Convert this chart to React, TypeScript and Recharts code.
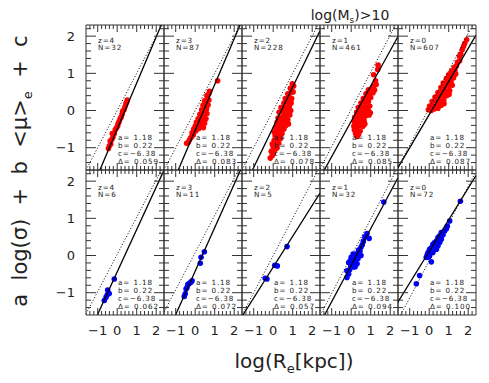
import React from 'react';
import { ScatterChart, Scatter, XAxis, YAxis } from 'recharts';

type Pt = [number, number];

// ---------- axes ----------
const X_DOMAIN: [number, number] = [-1.6, 2.4];
const Y_DOMAIN: [number, number] = [-1.6, 2.3];
const X_TICKS = [-1.4, -1.2, -1, -0.8, -0.6, -0.4, -0.2, 0, 0.2, 0.4, 0.6, 0.8, 1, 1.2, 1.4, 1.6, 1.8, 2, 2.2];
const Y_TICKS = [-1.4, -1.2, -1, -0.8, -0.6, -0.4, -0.2, 0, 0.2, 0.4, 0.6, 0.8, 1, 1.2, 1.4, 1.6, 1.8, 2, 2.2];

// ---------- panel annotations ----------
const REDSHIFTS = ['4', '3', '2', '1', '0'];
const N_TOP = [32, 87, 228, 461, 607];
const N_BOTTOM = [6, 11, 5, 32, 72];
const DELTA_TOP = ['0.059', '0.083', '0.078', '0.085', '0.087'];
const DELTA_BOTTOM = ['0.062', '0.072', '0.057', '0.094', '0.100'];
const COEF_A = '1.18';
const COEF_B = '0.22';
const COEF_C = '\u22126.38';

// ---------- fitted lines (solid) and 1:1-type lines (dotted) ----------
const FIT_SLOPE_TOP = [1.24, 1.23, 1.08, 0.95, 0.89];
const FIT_ICPT_TOP = [-0.5, -0.53, -0.45, -0.29, -0.11];
const FIT_SLOPE_BOTTOM = [1.14, 1.17, 0.83, 0.98, 0.85];
const FIT_ICPT_BOTTOM = [-0.44, -0.42, -0.31, -0.26, 0.11];
const DOT_ICPT_TOP = [0, 0, 0, 0.03, 0.07];
const DOT_ICPT_BOTTOM = [0.03, 0.08, 0, -0.02, -0.14];

// ---------- data: top row (red) ----------
const RED_Z4: Pt[] = [[-0.45,-1.02],[-0.40,-0.95],[-0.33,-0.90],[-0.36,-0.82],[-0.28,-0.78],[-0.22,-0.72],[-0.25,-0.62],[-0.15,-0.62],[-0.10,-0.52],[-0.05,-0.48],[0.02,-0.42],[0.05,-0.35],[0.10,-0.30],[0.15,-0.22],[0.20,-0.18],[0.25,-0.10],[0.28,-0.02],[0.35,0.02],[0.40,0.10],[0.45,0.18],[0.52,0.28],[0.48,0.22]];
const RED_Z3: Pt[] = [[-0.44,-0.88],[-0.36,-0.86],[-0.30,-0.80],[-0.24,-0.74],[-0.18,-0.70],[-0.10,-0.66],[-0.16,-0.60],[-0.05,-0.58],[0.02,-0.55],[-0.08,-0.50],[0.10,-0.50],[0.20,-0.48],[0.00,-0.42],[0.12,-0.40],[0.30,-0.42],[0.42,-0.46],[0.06,-0.32],[0.20,-0.30],[0.35,-0.30],[0.48,-0.34],[0.15,-0.22],[0.28,-0.20],[0.44,-0.18],[0.55,-0.22],[0.24,-0.10],[0.36,-0.08],[0.50,-0.05],[0.60,-0.08],[0.33,0.02],[0.45,0.06],[0.58,0.04],[0.40,0.14],[0.52,0.18],[0.66,0.15],[0.48,0.26],[0.62,0.30],[0.70,0.28],[0.60,0.40],[0.70,0.45],[0.74,0.52],[1.15,0.80]];
const RED_Z2: Pt[] = [[-0.15,-1.28],[-0.05,-1.22],[0.02,-1.15],[-0.10,-1.10],[0.10,-1.05],[0.20,-1.00],[0.00,-0.98],[-0.05,-0.90],[0.12,-0.90],[0.28,-0.88],[0.05,-0.80],[0.20,-0.78],[0.38,-0.75],[0.10,-0.68],[0.28,-0.66],[0.45,-0.62],[0.05,-0.58],[0.18,-0.55],[0.35,-0.52],[0.55,-0.50],[0.12,-0.45],[0.28,-0.42],[0.45,-0.40],[0.65,-0.40],[0.78,-0.36],[0.20,-0.32],[0.38,-0.30],[0.58,-0.28],[0.75,-0.25],[0.25,-0.20],[0.45,-0.18],[0.65,-0.15],[0.85,-0.12],[0.30,-0.05],[0.50,-0.05],[0.72,-0.02],[0.90,0.00],[0.40,0.08],[0.60,0.08],[0.82,0.10],[0.55,0.20],[0.75,0.22],[0.92,0.20],[0.62,0.32],[0.82,0.35],[0.95,0.32],[0.75,0.45],[0.90,0.48],[1.02,0.50],[0.88,0.60],[1.05,0.66],[0.98,0.72]];
const RED_Z1: Pt[] = [[0.30,-0.70],[0.22,-0.62],[0.38,-0.64],[0.16,-0.52],[0.30,-0.52],[0.46,-0.55],[0.14,-0.42],[0.28,-0.40],[0.44,-0.40],[0.60,-0.42],[0.70,-0.36],[0.16,-0.30],[0.32,-0.28],[0.50,-0.28],[0.66,-0.26],[0.18,-0.18],[0.36,-0.16],[0.55,-0.15],[0.75,-0.14],[0.92,-0.12],[0.28,-0.05],[0.48,-0.04],[0.68,-0.03],[0.88,0.00],[0.98,-0.06],[0.36,0.08],[0.56,0.08],[0.76,0.10],[0.95,0.12],[0.50,0.20],[0.70,0.22],[0.88,0.24],[0.62,0.32],[0.82,0.34],[1.00,0.35],[0.76,0.45],[0.95,0.46],[1.12,0.48],[0.88,0.56],[1.05,0.58],[1.20,0.55],[1.15,0.66],[1.28,0.70],[1.25,0.80],[1.15,0.96],[1.36,1.10],[1.38,1.22]];
const RED_Z0: Pt[] = [[-0.04,0.02],[0.10,0.00],[0.25,0.04],[0.45,0.06],[0.02,0.12],[0.20,0.12],[0.40,0.15],[0.62,0.14],[0.76,0.18],[0.15,0.24],[0.35,0.26],[0.55,0.26],[0.75,0.28],[0.30,0.36],[0.50,0.38],[0.70,0.40],[0.90,0.40],[1.02,0.44],[0.45,0.48],[0.65,0.50],[0.85,0.52],[1.05,0.54],[0.60,0.62],[0.80,0.64],[1.00,0.66],[1.18,0.68],[0.72,0.74],[0.92,0.76],[1.12,0.78],[0.88,0.86],[1.08,0.88],[1.25,0.88],[1.00,0.96],[1.20,0.98],[1.36,0.98],[1.15,1.06],[1.32,1.08],[1.28,1.16],[1.40,1.20],[1.45,1.30],[1.56,1.34],[1.55,1.46],[1.62,1.52],[1.70,1.64],[1.76,1.72],[1.82,1.80],[1.92,1.90]];

// ---------- data: bottom row (blue) ----------
const BLUE_Z4: Pt[] = [[-0.15,-0.63],[-0.49,-0.93],[-0.41,-1.02],[-0.57,-1.12],[-0.50,-1.05],[-0.66,-1.21]];
const BLUE_Z3: Pt[] = [[0.47,0.10],[0.30,-0.05],[0.26,-0.21],[-0.16,-0.68],[-0.30,-0.75],[-0.22,-0.72],[-0.38,-0.78],[-0.47,-0.90],[-0.42,-0.86],[-0.51,-1.03],[-0.56,-1.10]];
const BLUE_Z2: Pt[] = [[0.71,0.24],[0.08,-0.26],[0.21,-0.28],[-0.41,-0.61],[-0.32,-0.63]];
const BLUE_Z1: Pt[] = [[1.67,1.44],[0.81,0.59],[0.92,0.46],[0.70,0.50],[0.62,0.38],[0.57,0.29],[0.50,0.22],[0.45,0.12],[0.38,0.15],[0.42,0.05],[0.30,0.05],[0.21,0.02],[0.28,-0.04],[0.15,-0.02],[0.10,0.04],[0.04,-0.10],[0.12,-0.12],[-0.05,-0.14],[0.22,-0.15],[-0.13,-0.19],[0.05,-0.20],[0.30,-0.22],[0.12,-0.31],[-0.02,-0.28],[0.20,-0.30],[-0.22,-0.41],[-0.08,-0.38],[-0.13,-0.50],[-0.22,-0.59],[0.35,-0.08],[0.00,-0.05],[0.50,0.00]];
const BLUE_Z0: Pt[] = [[1.60,1.46],[1.05,0.93],[0.93,0.79],[0.88,0.72],[0.79,0.66],[0.71,0.56],[0.62,0.62],[0.54,0.53],[0.62,0.44],[0.45,0.48],[0.54,0.35],[0.37,0.39],[0.45,0.26],[0.28,0.35],[0.37,0.17],[0.19,0.30],[0.28,0.21],[0.11,0.21],[0.19,0.08],[0.02,0.17],[0.11,0.08],[-0.06,0.08],[0.02,-0.01],[-0.10,0.02],[-0.06,-0.05],[-0.15,-0.05],[0.11,-0.17],[-0.49,-0.54],[-0.66,-0.76]];

const TOP_DATA = [RED_Z4, RED_Z3, RED_Z2, RED_Z1, RED_Z0];
const BOTTOM_DATA = [BLUE_Z4, BLUE_Z3, BLUE_Z2, BLUE_Z1, BLUE_Z0];

// ---------- layout ----------
const W = 489;
const H = 383;
const COL_LEFT = [86, 164, 242, 320, 398];
const ROW_TOP = [25, 170];
const PW = 78;
const PH = 145;
const PAD = 40;
const AX = 1; // axis thickness reserved by Recharts
const FONT = '"DejaVu Sans", sans-serif';
const INK = '#222';
const TICK_INK = '#333';

const isMajor = (v: number) => Math.abs(v - Math.round(v)) < 1e-6;
const fmt = (v: number) => {
  const r = Math.round(v);
  return r < 0 ? '\u2212' + Math.abs(r) : String(r);
};

function makeTick(side: 'bottom' | 'top' | 'left' | 'right', showLabel: boolean) {
  return (props: any) => {
    const { x, y, payload } = props;
    const v = Number(payload.value);
    const major = isMajor(v);
    if (side === 'bottom' || side === 'top') {
      const len = major ? 7 : 4;
      const d = side === 'bottom' ? -1 : 1;
      return (
        <g>
          <line x1={x} x2={x} y1={y} y2={y + d * len} stroke={TICK_INK} strokeWidth={1} />
          {showLabel && major && (
            <text x={x} y={y + 20} textAnchor="middle" fontFamily={FONT} fontSize={13} fill={INK}>
              {fmt(v)}
            </text>
          )}
        </g>
      );
    }
    const len = major ? 10 : 5;
    const d = side === 'left' ? 1 : -1;
    return (
      <g>
        <line x1={x} x2={x + d * len} y1={y} y2={y} stroke={TICK_INK} strokeWidth={1} />
        {showLabel && major && (
          <text x={x - 11} y={y} dy="0.36em" textAnchor="end" fontFamily={FONT} fontSize={13} fill={INK}>
            {fmt(v)}
          </text>
        )}
      </g>
    );
  };
}

function boxSegment(m: number, c: number) {
  const [x0, x1] = X_DOMAIN;
  const [y0, y1] = Y_DOMAIN;
  let xa = (y0 - c) / m;
  let xb = (y1 - c) / m;
  xa = Math.max(x0, Math.min(x1, xa));
  xb = Math.max(x0, Math.min(x1, xb));
  return [
    { x: xa, y: m * xa + c },
    { x: xb, y: m * xb + c },
  ];
}

const noShape = () => <g />;

function Panel({ col, row }: { col: number; row: number }) {
  const left = COL_LEFT[col];
  const top = ROW_TOP[row];
  const showX = row === 1;
  const showY = col === 0;
  const pts = (row === 0 ? TOP_DATA : BOTTOM_DATA)[col].map(([x, y]) => ({ x, y }));
  const color = row === 0 ? '#ff0000' : '#0000ff';
  const slope = (row === 0 ? FIT_SLOPE_TOP : FIT_SLOPE_BOTTOM)[col];
  const icpt = (row === 0 ? FIT_ICPT_TOP : FIT_ICPT_BOTTOM)[col];
  const dIcpt = (row === 0 ? DOT_ICPT_TOP : DOT_ICPT_BOTTOM)[col];
  const solid = boxSegment(slope, icpt);
  const dotted = boxSegment(1, dIcpt);
  const axisLine = { stroke: TICK_INK, strokeWidth: 1 };
  const dot = (p: any) => <circle cx={p.cx} cy={p.cy} r={2.8} fill={color} />;
  const m = PAD - AX;
  return (
    <div style={{ position: 'absolute', left: left - PAD, top: top - PAD }}>
      <ScatterChart width={PW + 2 * PAD} height={PH + 2 * PAD} margin={{ top: m, right: m, bottom: m, left: m }}>
        <XAxis xAxisId="b" orientation="bottom" type="number" dataKey="x" domain={X_DOMAIN} allowDataOverflow
          ticks={X_TICKS} interval={0} height={AX} tickSize={0} tickMargin={0} tickLine={false} axisLine={axisLine}
          tick={makeTick('bottom', showX)} />
        <XAxis xAxisId="t" orientation="top" type="number" dataKey="x" domain={X_DOMAIN} allowDataOverflow
          ticks={X_TICKS} interval={0} height={AX} tickSize={0} tickMargin={0} tickLine={false} axisLine={axisLine}
          tick={makeTick('top', false)} />
        <YAxis yAxisId="l" orientation="left" type="number" dataKey="y" domain={Y_DOMAIN} allowDataOverflow
          ticks={Y_TICKS} interval={0} width={AX} tickSize={0} tickMargin={0} tickLine={false} axisLine={axisLine}
          tick={makeTick('left', showY)} />
        <YAxis yAxisId="r" orientation="right" type="number" dataKey="y" domain={Y_DOMAIN} allowDataOverflow
          ticks={Y_TICKS} interval={0} width={AX} tickSize={0} tickMargin={0} tickLine={false} axisLine={axisLine}
          tick={makeTick('right', false)} />
        <Scatter xAxisId="b" yAxisId="l" data={pts} fill={color} shape={dot} isAnimationActive={false} />
        <Scatter xAxisId="b" yAxisId="l" data={dotted} shape={noShape} isAnimationActive={false}
          line={{ stroke: '#000', strokeWidth: 1, strokeDasharray: '1 2' }} />
        <Scatter xAxisId="b" yAxisId="l" data={solid} shape={noShape} isAnimationActive={false}
          line={{ stroke: '#000', strokeWidth: 1.3 }} />
      </ScatterChart>
    </div>
  );
}

function PanelText({ col, row }: { col: number; row: number }) {
  const left = COL_LEFT[col];
  const top = ROW_TOP[row];
  const n = (row === 0 ? N_TOP : N_BOTTOM)[col];
  const delta = (row === 0 ? DELTA_TOP : DELTA_BOTTOM)[col];
  const zOff = row === 0 ? 17.5 : 19.5;
  const common = { fontFamily: FONT, fontSize: 7.2, fill: INK, letterSpacing: 0.9 } as const;
  const cx = left + 32;
  return (
    <g>
      <text x={left + 12} y={top + zOff} {...common}>z={REDSHIFTS[col]}</text>
      <text x={left + 12} y={top + zOff + 7.8} {...common}>N={n}</text>
      <text x={cx} y={top + 115.3} {...common} style={{ whiteSpace: 'pre' }}>{'a= ' + COEF_A}</text>
      <text x={cx} y={top + 123.2} {...common} style={{ whiteSpace: 'pre' }}>{'b= ' + COEF_B}</text>
      <text x={cx} y={top + 131.1} {...common} style={{ whiteSpace: 'pre' }}>{'c=' + COEF_C}</text>
      <text x={cx} y={top + 139} {...common} style={{ whiteSpace: 'pre' }}>{'\u0394= ' + delta}</text>
    </g>
  );
}

export default function App() {
  const cols = [0, 1, 2, 3, 4];
  const rows = [0, 1];
  return (
    <div style={{ position: 'absolute', left: 0, top: 0, width: W, height: H, background: '#fff', overflow: 'hidden' }}>
      {rows.map((r) => cols.map((c) => <Panel key={`${r}-${c}`} col={c} row={r} />))}
      <svg width={W} height={H} style={{ position: 'absolute', left: 0, top: 0, pointerEvents: 'none' }}>
        {rows.map((r) => cols.map((c) => <PanelText key={`t${r}-${c}`} col={c} row={r} />))}
        <text x={350} y={20} textAnchor="middle" fontFamily={FONT} fontSize={14} fill={INK}>
          log(M<tspan fontSize={9} dy={3}>s</tspan><tspan dy={-3}>)&gt;10</tspan>
        </text>
        <text x={294} y={368} textAnchor="middle" fontFamily={FONT} fontSize={20} fill={INK}>
          log(R<tspan fontSize={13} dy={5}>e</tspan><tspan dy={-5}>[kpc])</tspan>
        </text>
        <text transform="translate(27,171) rotate(-90)" textAnchor="middle" fontFamily={FONT} fontSize={21} fill={INK}
          style={{ whiteSpace: 'pre' }}>
          {'a  log(\u03c3)  +  b  <\u03bc>'}<tspan fontSize={13} dy={5}>e</tspan><tspan dy={-5}>{'  +  c'}</tspan>
        </text>
      </svg>
    </div>
  );
}
